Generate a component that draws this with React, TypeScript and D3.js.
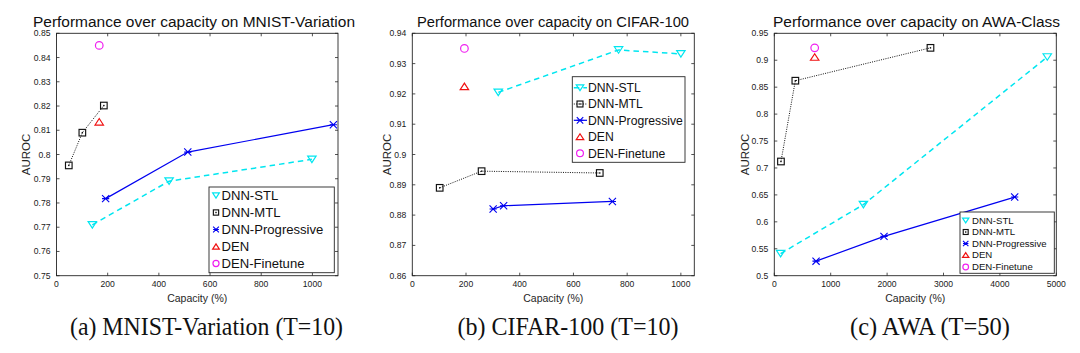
import React from "react";
import * as d3 from "d3";

// ---------- DATA ----------
const seriesNames = ["DNN-STL", "DNN-MTL", "DNN-Progressive", "DEN", "DEN-Finetune"];

// MNIST-Variation
const mnistSTL: [number, number][] = [[140, 0.771], [440, 0.789], [998, 0.798]];
const mnistMTL: [number, number][] = [[48, 0.7955], [101, 0.809], [185, 0.8202]];
const mnistProg: [number, number][] = [[192, 0.7818], [513, 0.801], [1082, 0.8123]];
const mnistDEN: [number, number][] = [[167, 0.8135]];
const mnistDENF: [number, number][] = [[167, 0.845]];

// CIFAR-100
const cifarSTL: [number, number][] = [[320, 0.9205], [768, 0.9345], [1000, 0.9332]];
const cifarMTL: [number, number][] = [[102, 0.889], [258, 0.8945], [698, 0.8939]];
const cifarProg: [number, number][] = [[301, 0.882], [340, 0.8831], [745, 0.8845]];
const cifarDEN: [number, number][] = [[194, 0.9225]];
const cifarDENF: [number, number][] = [[194, 0.935]];

// AWA-Class
const awaSTL: [number, number][] = [[112, 0.541], [1580, 0.632], [4840, 0.906]];
const awaMTL: [number, number][] = [[118, 0.712], [373, 0.862], [2769, 0.923]];
const awaProg: [number, number][] = [[740, 0.527], [1945, 0.573], [4262, 0.646]];
const awaDEN: [number, number][] = [[716, 0.906]];
const awaDENF: [number, number][] = [[716, 0.923]];

const mnistXTicks = [0, 200, 400, 600, 800, 1000];
const mnistYTicks = [0.75, 0.76, 0.77, 0.78, 0.79, 0.8, 0.81, 0.82, 0.83, 0.84, 0.85];
const cifarXTicks = [0, 200, 400, 600, 800, 1000];
const cifarYTicks = [0.86, 0.87, 0.88, 0.89, 0.9, 0.91, 0.92, 0.93, 0.94];
const awaXTicks = [0, 1000, 2000, 3000, 4000, 5000];
const awaYTicks = [0.5, 0.55, 0.6, 0.65, 0.7, 0.75, 0.8, 0.85, 0.9, 0.95];

const titles = [
  "Performance over capacity on MNIST-Variation",
  "Performance over capacity on CIFAR-100",
  "Performance over capacity on AWA-Class",
];
const captions = ["(a) MNIST-Variation (T=10)", "(b) CIFAR-100 (T=10)", "(c) AWA (T=50)"];

// ---------- STYLES / LAYOUT ----------
const COLORS = ["#00e6f0", "#111111", "#0000f0", "#f01010", "#f020f0"];
const FRAME = "#262626";
const SANS = "Liberation Sans, Arial, sans-serif";

const panels = [
  {
    x0: 56.5, x1: 338, y0: 33.3, y1: 275.7, xDom: [0, 1100], yDom: [0.75, 0.85],
    xTicks: mnistXTicks, yTicks: mnistYTicks,
    series: [mnistSTL, mnistMTL, mnistProg, mnistDEN, mnistDENF],
    title: titles[0], titleLen: 322, titleX: 33, caption: captions[0], capCx: 206.5, capLen: 273,
    ylabX: 26,
    legend: { x0: 209, y0: 187, x1: 334.3, y1: 272.7, mx: 216, tx: 221.5, rows: [195.5, 212.5, 229.5, 246.5, 263.5], fs: 13.1, ms: 0.8, lines: false },
  },
  {
    x0: 412.3, x1: 694.3, y0: 33.3, y1: 275.7, xDom: [0, 1050], yDom: [0.86, 0.94],
    xTicks: cifarXTicks, yTicks: cifarYTicks,
    series: [cifarSTL, cifarMTL, cifarProg, cifarDEN, cifarDENF],
    title: titles[1], titleLen: 272, titleX: 417, caption: captions[1], capCx: 568, capLen: 221,
    ylabX: 386.7,
    legend: { x0: 572.3, y0: 76.7, x1: 685, y1: 162.3, mx: 580, tx: 588, rows: [87.7, 104, 120.3, 136.7, 153.3], fs: 12.2, ms: 0.9, lines: true },
  },
  {
    x0: 774.3, x1: 1056.3, y0: 33.3, y1: 275.7, xDom: [0, 5000], yDom: [0.5, 0.95],
    xTicks: awaXTicks, yTicks: awaYTicks,
    series: [awaSTL, awaMTL, awaProg, awaDEN, awaDENF],
    title: titles[2], titleLen: 287, titleX: 773, caption: captions[2], capCx: 930, capLen: 160,
    ylabX: 745,
    legend: { x0: 960, y0: 212, x1: 1054.3, y1: 273.3, mx: 965.7, tx: 972, rows: [220.5, 232, 243.5, 255, 267], fs: 9.6, ms: 0.75, lines: false },
  },
];

function Marker({ kind, x, y, s = 1 }: { kind: number; x: number; y: number; s?: number }) {
  const c = COLORS[kind];
  if (kind === 0) {
    const w = 4.2 * s, h = 6.5 * s;
    return <path d={`M${x - w},${y - h / 2}L${x + w},${y - h / 2}L${x},${y + h / 2}Z`} fill="none" stroke={c} strokeWidth={1.2} />;
  }
  if (kind === 1) {
    const r = 3.3 * s;
    return (
      <g>
        <rect x={x - r} y={y - r} width={2 * r} height={2 * r} fill="none" stroke={c} strokeWidth={1.15} />
        <rect x={x - 0.7} y={y - 0.7} width={1.4} height={1.4} fill={c} />
      </g>
    );
  }
  if (kind === 2) {
    const r = 3.6 * s;
    return (
      <path d={`M${x - r},${y - r}L${x + r},${y + r}M${x - r},${y + r}L${x + r},${y - r}M${x - r},${y}L${x + r},${y}`} stroke={c} strokeWidth={1.1} fill="none" />
    );
  }
  if (kind === 3) {
    const w = 4.2 * s, h = 6.5 * s;
    return <path d={`M${x - w},${y + h / 2}L${x + w},${y + h / 2}L${x},${y - h / 2}Z`} fill="none" stroke={c} strokeWidth={1.2} />;
  }
  return <circle cx={x} cy={y} r={3.8 * s} fill="none" stroke={c} strokeWidth={1.2} />;
}

const lineStyles = [
  { w: 1.5, dash: "5.5,4" },
  { w: 1, dash: "1,1.3" },
  { w: 1.2, dash: undefined },
  { w: 1, dash: undefined },
  { w: 1, dash: undefined },
];

function Panel({ p }: { p: (typeof panels)[number] }) {
  const x = d3.scaleLinear().domain(p.xDom).range([p.x0, p.x1]);
  const y = d3.scaleLinear().domain(p.yDom).range([p.y1, p.y0]);
  const line = d3.line<[number, number]>().x((d) => x(d[0])).y((d) => y(d[1]));
  const fmt = (v: number) => String(+v.toFixed(2));
  const tl = 3;
  const L = p.legend;
  return (
    <g>
      <text x={p.titleX} y={27} fontSize={15.5} fontFamily={SANS} fill="#111" textLength={p.titleLen} lengthAdjust="spacingAndGlyphs">
        {p.title}
      </text>
      {p.series.map((s, i) =>
        s.length > 1 ? (
          <path key={"l" + i} d={line(s) || ""} fill="none" stroke={COLORS[i]} strokeWidth={lineStyles[i].w} strokeDasharray={lineStyles[i].dash} />
        ) : null
      )}
      {p.series.map((s, i) => s.map((d, j) => <Marker key={`m${i}-${j}`} kind={i} x={x(d[0])} y={y(d[1])} />))}
      <rect x={p.x0} y={p.y0} width={p.x1 - p.x0} height={p.y1 - p.y0} fill="none" stroke={FRAME} strokeWidth={0.9} />
      {p.xTicks.map((t) => (
        <g key={"xt" + t}>
          <line x1={x(t)} x2={x(t)} y1={p.y1} y2={p.y1 - tl} stroke={FRAME} strokeWidth={0.8} />
          <line x1={x(t)} x2={x(t)} y1={p.y0} y2={p.y0 + tl} stroke={FRAME} strokeWidth={0.8} />
          <text x={x(t)} y={p.y1 + 11.5} fontSize={8.6} textAnchor="middle" fontFamily={SANS} fill="#1a1a1a">
            {t}
          </text>
        </g>
      ))}
      {p.yTicks.map((t) => (
        <g key={"yt" + t}>
          <line x1={p.x0} x2={p.x0 + tl} y1={y(t)} y2={y(t)} stroke={FRAME} strokeWidth={0.8} />
          <line x1={p.x1} x2={p.x1 - tl} y1={y(t)} y2={y(t)} stroke={FRAME} strokeWidth={0.8} />
          <text x={p.x0 - 6} y={y(t) + 3} fontSize={8.6} textAnchor="end" fontFamily={SANS} fill="#1a1a1a">
            {fmt(t)}
          </text>
        </g>
      ))}
      <text transform={`translate(${p.ylabX + 4},${(p.y0 + p.y1) / 2}) rotate(-90)`} fontSize={11.5} textAnchor="middle" fontFamily={SANS} fill={FRAME}>
        AUROC
      </text>
      <text x={(p.x0 + p.x1) / 2} y={302} fontSize={10.5} textAnchor="middle" fontFamily={SANS} fill={FRAME}>
        Capacity (%)
      </text>
      <rect x={L.x0} y={L.y0} width={L.x1 - L.x0} height={L.y1 - L.y0} fill="#fff" stroke={FRAME} strokeWidth={0.9} />
      {seriesNames.map((n, i) => (
        <g key={"lg" + i}>
          {L.lines && i < 3 ? (
            <line x1={L.x0 + 1.5} x2={L.tx - 1} y1={L.rows[i]} y2={L.rows[i]} stroke={COLORS[i]} strokeWidth={lineStyles[i].w} strokeDasharray={lineStyles[i].dash} />
          ) : null}
          <Marker kind={i} x={L.mx} y={L.rows[i]} s={L.ms} />
          <text x={L.tx} y={L.rows[i] + L.fs * 0.36} fontSize={L.fs} fontFamily={SANS} fill="#111">
            {n}
          </text>
        </g>
      ))}
      <text x={p.capCx} y={335} fontSize={25} textAnchor="middle" fontFamily="Liberation Serif, Times New Roman, serif" fill="#111" textLength={p.capLen} lengthAdjust="spacingAndGlyphs">
        {p.caption}
      </text>
    </g>
  );
}

export default function App() {
  return (
    <svg width={1080} height={353} style={{ position: "absolute", left: 0, top: 0, background: "#fff" }}>
      <rect width={1080} height={353} fill="#fff" />
      {panels.map((p, i) => (
        <Panel key={i} p={p} />
      ))}
    </svg>
  );
}
